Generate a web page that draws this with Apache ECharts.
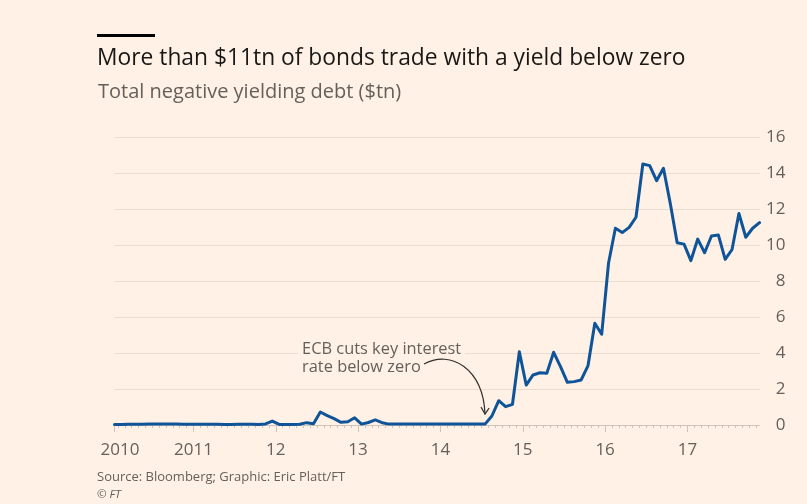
<!DOCTYPE html>
<html>
<head>
<meta charset="utf-8">
<script src="https://cdn.jsdelivr.net/npm/echarts@6/dist/echarts.min.js"></script>
<style>
  html, body { margin: 0; padding: 0; background: #fff1e5; }
  #chart { width: 807px; height: 504px; }
</style>
</head>
<body>
<div id="chart"></div>
<script>
// Total negative yielding debt, $tn, monthly from January 2010
const FIRST_YEAR = 2010;
const debt2010 = [0.03, 0.03, 0.04, 0.04, 0.04, 0.05, 0.05, 0.06, 0.05, 0.05, 0.04, 0.04];
const debt2011 = [0.04, 0.04, 0.04, 0.04, 0.03, 0.03, 0.04, 0.04, 0.04, 0.03, 0.06, 0.22];
const debt2012 = [0.03, 0.03, 0.03, 0.04, 0.13, 0.07, 0.72, 0.52, 0.35, 0.15, 0.18, 0.40];
const debt2013 = [0.05, 0.14, 0.28, 0.13, 0.05, 0.05, 0.05, 0.05, 0.05, 0.05, 0.05, 0.05];
const debt2014 = [0.05, 0.05, 0.05, 0.05, 0.05, 0.05, 0.05, 0.50, 1.35, 1.02, 1.15, 4.07];
const debt2015 = [2.22, 2.78, 2.90, 2.87, 4.04, 3.24, 2.37, 2.41, 2.50, 3.28, 5.65, 5.04];
const debt2016 = [9.00, 10.93, 10.69, 10.98, 11.54, 14.50, 14.41, 13.57, 14.26, 12.31, 10.13, 10.05];
const debt2017 = [9.13, 10.33, 9.57, 10.50, 10.56, 9.20, 9.75, 11.75, 10.43, 10.93, 11.24];

const yearLabels = ['2010', '2011', '12', '13', '14', '15', '16', '17'];

// Annotation: the ECB takes its deposit rate below zero; the arrow points at
// the last month before the debt pile starts to climb
const ecbNote = ['ECB cuts key interest', 'rate below zero'];
const ecbMonth = { year: 2014, month: 7 };

const titleText = 'More than $11tn of bonds trade with a yield below zero';
const subtitleText = 'Total negative yielding debt ($tn)';
const sourceText = 'Source: Bloomberg; Graphic: Eric Platt/FT';
const creditText = '\u00a9 FT';

const debt = [].concat(debt2010, debt2011, debt2012, debt2013, debt2014, debt2015, debt2016, debt2017);

// x is measured in months since 1 Jan 2010; each monthly value sits mid-month
const points = debt.map((v, i) => [i + 0.5, v]);
const xMin = points[0][0];
const xMax = points[points.length - 1][0];
const yearStarts = yearLabels.map((_, k) => (k === 0 ? xMin : k * 12));
const monthStarts = [];
for (let m = 1; m < xMax; m++) monthStarts.push(m);

const PAPER = '#fff1e5';
const INK = '#33302e';
const GREY = '#66605c';
const FONT = '"Open Sans", Roboto, sans-serif';
const TICK = '#cfc4b9';

const grid = { left: 114.5, right: 47.5, top: 137, bottom: 79 };

const chart = echarts.init(document.getElementById('chart'), null, { renderer: 'canvas' });

function headerGraphics() {
  return [
    { type: 'rect', left: 97, top: 34, shape: { width: 58, height: 3 }, style: { fill: '#000' } },
    {
      type: 'text', left: 97, top: 47,
      style: { text: titleText, fill: '#1a1817', font: '22.8px ' + FONT }
    },
    {
      type: 'text', left: 98, top: 82,
      style: { text: subtitleText, fill: GREY, font: '20px ' + FONT }
    },
    {
      type: 'text', left: 97, top: 471,
      style: { text: sourceText, fill: GREY, font: '13px ' + FONT }
    },
    {
      type: 'text', left: 97, top: 489,
      style: { text: creditText, fill: GREY, font: 'italic 11.5px ' + FONT }
    }
  ];
}

chart.setOption({
  backgroundColor: PAPER,
  animation: false,
  textStyle: { fontFamily: FONT },
  grid: [Object.assign({}, grid), Object.assign({}, grid)],
  xAxis: [
    {
      type: 'value', gridIndex: 0, min: xMin, max: xMax,
      axisLine: { show: true, lineStyle: { color: TICK, width: 1 } },
      axisTick: { show: true, length: 7, customValues: yearStarts, lineStyle: { color: TICK } },
      axisLabel: {
        customValues: yearStarts,
        margin: 17,
        color: GREY, fontSize: 17, fontFamily: FONT,
        formatter: function (v) {
          const k = yearStarts.indexOf(v);
          if (k < 0) return '';
          return k === 0 ? '{first|' + yearLabels[0] + '}' : yearLabels[k];
        },
        rich: { first: { color: GREY, fontSize: 17, fontFamily: FONT, padding: [0, 0, 0, 11] } }
      },
      splitLine: { show: false }
    },
    {
      // monthly minor ticks
      type: 'value', gridIndex: 1, min: xMin, max: xMax,
      axisLine: { show: false },
      axisTick: { show: true, length: 3, customValues: monthStarts, lineStyle: { color: TICK } },
      axisLabel: { show: false },
      splitLine: { show: false }
    }
  ],
  yAxis: [
    {
      type: 'value', gridIndex: 0, position: 'right', min: 0, max: 16, interval: 2,
      axisLine: { show: false },
      axisTick: { show: false },
      axisLabel: { align: 'right', margin: 26, color: GREY, fontSize: 17, fontFamily: FONT },
      splitLine: { lineStyle: { color: '#e9ddd2', width: 1 } }
    },
    {
      type: 'value', gridIndex: 1, min: 0, max: 16, show: false
    }
  ],
  series: [
    {
      name: 'Negative yielding debt',
      type: 'line',
      xAxisIndex: 0, yAxisIndex: 0,
      data: points,
      showSymbol: false,
      clip: false,
      lineStyle: { color: '#0f5499', width: 3, join: 'round', cap: 'round' },
      z: 5
    }
  ],
  graphic: headerGraphics()
});

// Place the annotation relative to the marked month on the chart's own scales
const ecbIndex = (ecbMonth.year - FIRST_YEAR) * 12 + (ecbMonth.month - 1);
const anchor = chart.convertToPixel({ xAxisIndex: 0, yAxisIndex: 0 }, points[ecbIndex]);
const tipX = anchor[0];
const tipY = anchor[1] - 10;

chart.setOption({
  graphic: headerGraphics().concat([
    {
      // the note sits on a paper-coloured patch so gridlines stop behind it
      type: 'text', x: tipX - 187, y: tipY - 75, z: 3,
      style: {
        text: ecbNote.join('\n'), fill: GREY, font: '16.4px ' + FONT, lineHeight: 18,
        backgroundColor: PAPER, padding: [1, 4, 1, 4]
      }
    },
    {
      type: 'bezierCurve', z: 3,
      shape: {
        x1: tipX - 61, y1: tipY - 50,
        cpx1: tipX - 34, cpy1: tipY - 65,
        cpx2: tipX - 2, cpy2: tipY - 45,
        x2: tipX, y2: tipY
      },
      style: { stroke: INK, lineWidth: 1.2, fill: null }
    },
    {
      type: 'polyline', z: 3,
      shape: { points: [[tipX - 4, tipY - 7], [tipX, tipY], [tipX + 4, tipY - 6]] },
      style: { stroke: INK, lineWidth: 1.2, fill: null }
    }
  ])
});
</script>
</body>
</html>
